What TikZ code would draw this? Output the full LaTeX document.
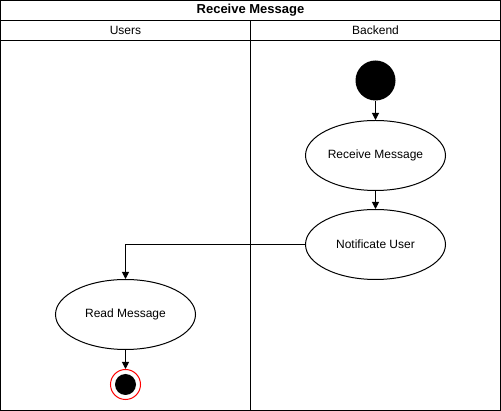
\documentclass[tikz,border=0pt]{standalone}
\usepackage{fontspec}
\setmainfont{Liberation Sans}
\usetikzlibrary{arrows.meta,shapes.geometric}
\tikzset{
	activity/.style={draw, ellipse, minimum width=140pt, minimum height=70pt, inner sep=0pt, font=\fontsize{12}{14}\selectfont},
	flow/.style={line width=1pt, -{Triangle[length=7pt,width=7pt]}},
}

\begin{document}
\begin{tikzpicture}[x=1pt, y=-1pt, line width=1pt]
			%%%%% START %%%%%
			
			\useasboundingbox (0, 0) rectangle (501, 411);
			\fill[white] (0, 0) rectangle (501, 411);
			
			\draw (0.5, 0.5) rectangle (500.5, 410.5);
			\draw (0.5, 20.5) -- (500.5, 20.5);
			\draw (0.5, 40.5) -- (500.5, 40.5);
			\draw (250.5, 20.5) -- (250.5, 410.5);
			
			\node[font=\fontsize{13}{15}\selectfont\bfseries] (title) at (250.5, 10.5) {Receive Message};
			\node[font=\fontsize{12}{14}\selectfont] (users) at (125.5, 30.5) {Users};
			\node[font=\fontsize{12}{14}\selectfont] (backend) at (375.5, 30.5) {Backend};
			
			\node[circle, fill=black, minimum size=40pt, inner sep=0pt] (start) at (375.5, 80.5) {};
			\node[activity] (receive) at (375.5, 155.5) {Receive Message};
			\node[activity] (notify) at (375.5, 244.5) {Notificate User};
			\node[activity] (read) at (125.5, 314.5) {Read Message};
			
			\node[circle, draw=red, fill=white, minimum size=30pt, inner sep=0pt] (end) at (125.5, 384.5) {};
			\node[circle, fill=black, minimum size=21pt, inner sep=0pt] at (end) {};
			
			\draw[flow] (start) -- (receive);
			\draw[flow] (receive) -- (notify);
			\draw[flow] (notify.west) -| (read.north);
			\draw[flow] (read) -- (end);
			
			%%%%% END %%%%%
\end{tikzpicture}
\end{document}
